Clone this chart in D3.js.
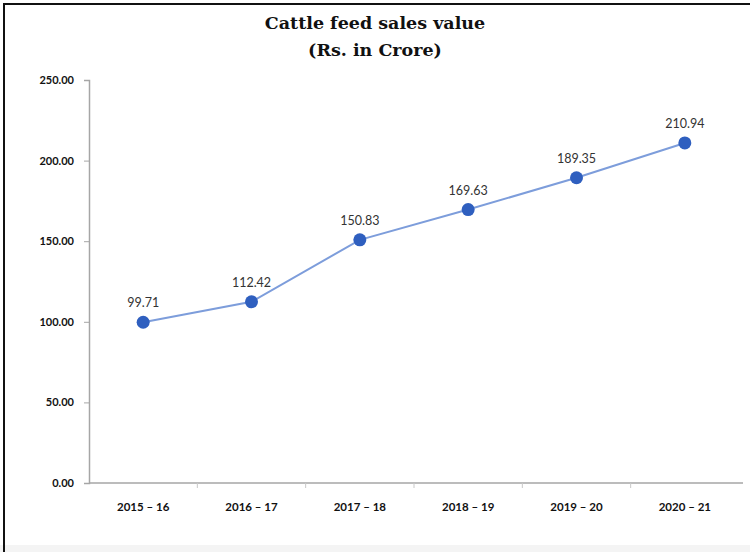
<!DOCTYPE html>
<html>
<head>
<meta charset="utf-8">
<script src="https://cdn.jsdelivr.net/npm/d3@7"></script>
<style>
  html, body { margin: 0; padding: 0; background: #fff; }
  svg { display: block; }
</style>
</head>
<body>
<svg id="chart" width="750" height="552"></svg>
<script>
// Cattle feed sales value, Rs. in Crore
const years = ["2015 – 16", "2016 – 17", "2017 – 18", "2018 – 19", "2019 – 20", "2020 – 21"];
const sales = [99.71, 112.42, 150.83, 169.63, 189.35, 210.94];
const yTicks = [0, 50, 100, 150, 200, 250];
const titleLines = ["Cattle feed sales value", "(Rs. in Crore)"];

const W = 750, H = 552;
const margin = { left: 89, right: 11, top: 80, bottom: 69 };

const svg = d3.select("#chart");

// faint strip along the bottom edge
svg.append("rect").attr("x", 0).attr("y", 545).attr("width", W).attr("height", H - 545)
  .attr("fill", "#f4f4f4");

// frame lines (top and left)
svg.append("line").attr("x1", 3).attr("x2", W).attr("y1", 4).attr("y2", 4)
  .attr("stroke", "#111").attr("stroke-width", 2);
svg.append("line").attr("x1", 4).attr("x2", 4).attr("y1", 3).attr("y2", H)
  .attr("stroke", "#111").attr("stroke-width", 2);

// title
svg.append("g").selectAll("text").data(titleLines).join("text")
  .attr("x", 375).attr("y", (d, i) => 29 + i * 27)
  .attr("text-anchor", "middle")
  .attr("font-family", "'DejaVu Serif', serif")
  .attr("font-weight", "bold").attr("font-size", 17.5)
  .attr("fill", "#111")
  .text(d => d);

const x = d3.scaleBand().domain(years).range([margin.left, W - margin.right]);
const y = d3.scaleLinear().domain([0, 250]).range([H - margin.bottom, margin.top]);

// y axis
const yAxis = svg.append("g").attr("transform", `translate(${margin.left},0)`)
  .call(d3.axisLeft(y).tickValues(yTicks).tickFormat(d3.format(".2f")).tickSize(5).tickPadding(10));
yAxis.select(".domain").attr("stroke", "#a6a6a6").attr("stroke-width", 1.5);
yAxis.selectAll(".tick line").attr("stroke", "#a6a6a6");
yAxis.selectAll("text")
  .attr("font-family", "Lato, sans-serif").attr("font-weight", "bold")
  .attr("font-size", 11).attr("fill", "#111");

// x axis, ticks sit on band boundaries
const xAxis = svg.append("g").attr("transform", `translate(0,${y(0)})`)
  .call(d3.axisBottom(x).tickSize(0).tickPadding(20).tickSizeOuter(0));
xAxis.select(".domain").remove();
xAxis.append("line").attr("x1", margin.left).attr("x2", W - 7)
  .attr("stroke", "#a6a6a6").attr("stroke-width", 1.5);
xAxis.selectAll("text")
  .attr("font-family", "Lato, sans-serif").attr("font-weight", "bold")
  .attr("font-size", 11.5).attr("fill", "#111");
xAxis.append("g").selectAll("line").data(years.slice(1)).join("line")
  .attr("x1", d => x(d)).attr("x2", d => x(d))
  .attr("y1", 0).attr("y2", 5)
  .attr("stroke", "#c8c8c8");

const cx = d => x(d) + x.bandwidth() / 2;
const pts = years.map((d, i) => ({ year: d, value: sales[i] }));

// connecting line
svg.append("path").datum(pts)
  .attr("fill", "none").attr("stroke", "#7d9ddb").attr("stroke-width", 2)
  .attr("d", d3.line().x(d => cx(d.year)).y(d => y(d.value)));

// markers
svg.append("g").selectAll("circle").data(pts).join("circle")
  .attr("cx", d => cx(d.year)).attr("cy", d => y(d.value)).attr("r", 6.5)
  .attr("fill", "#2f5fbf");

// value labels
svg.append("g").selectAll("text").data(pts).join("text")
  .attr("x", d => cx(d.year)).attr("y", d => y(d.value) - 15)
  .attr("text-anchor", "middle")
  .attr("font-family", "Lato, sans-serif").attr("font-size", 12.5)
  .attr("fill", "#333")
  .text(d => d.value.toFixed(2));
</script>
</body>
</html>
